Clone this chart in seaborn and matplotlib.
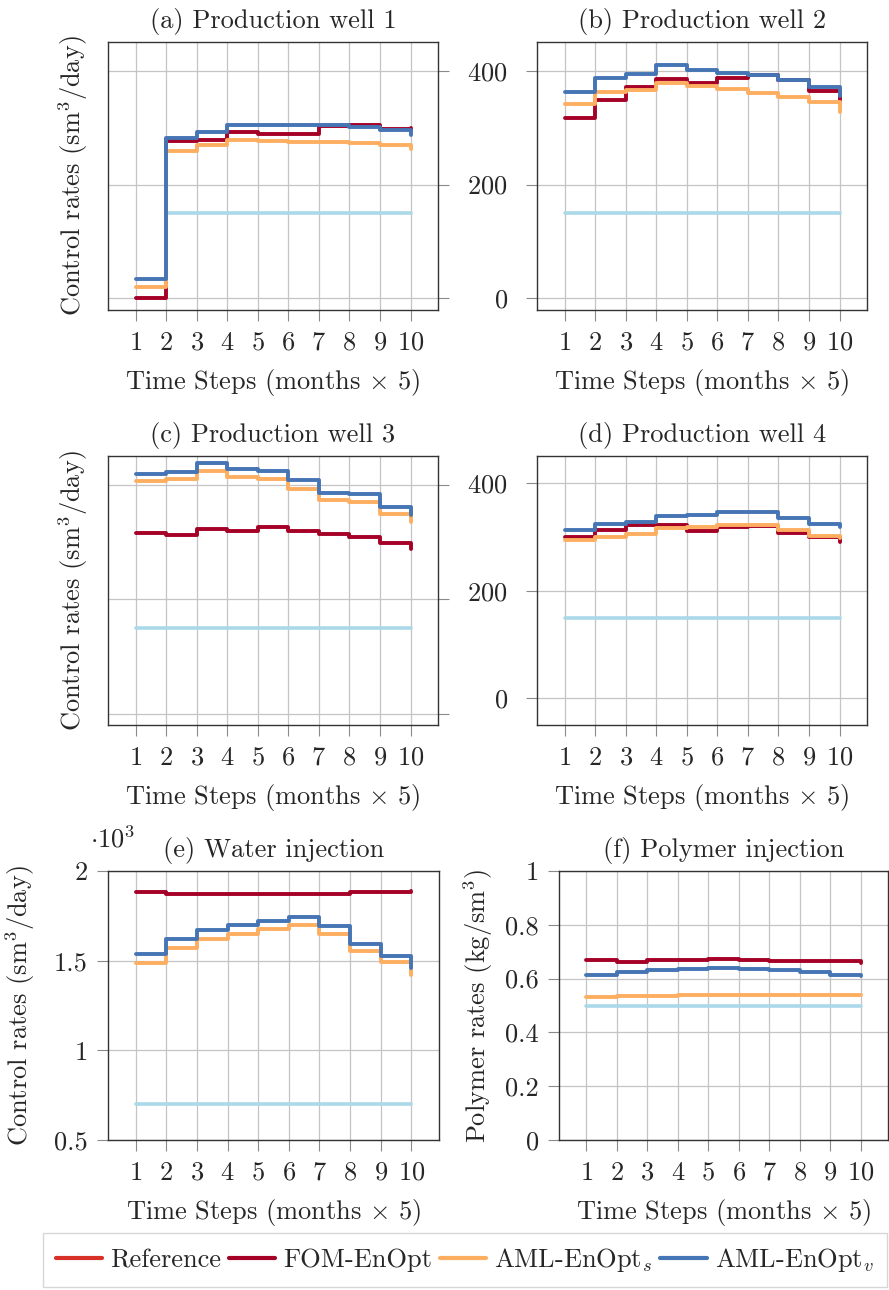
#!/usr/bin/env python3
"""
Optimized control rates per well: step plots over the 10 control steps.
"""

import matplotlib
matplotlib.use('Agg')
import matplotlib.pyplot as plt
from matplotlib.lines import Line2D
from matplotlib.ticker import FuncFormatter
import seaborn as sns

sns.set_theme(style='ticks')
plt.rcParams['font.family'] = ['cmr10', 'DejaVu Serif']
plt.rcParams['mathtext.fontset'] = 'cm'
plt.rcParams['axes.formatter.use_mathtext'] = True

# ---------------- data ----------------
steps = [1, 2, 3, 4, 5, 6, 7, 8, 9, 10]

# (a) Production well 1
a_init = [0, 150, 150, 150, 150, 150, 150, 150, 150, 150]
a_fom = [0, 276, 279, 292, 289, 289, 303, 305, 297, 300]
a_aml_s = [20, 259, 269, 279, 276, 275, 275, 273, 269, 262]
a_aml_v = [33, 282, 292, 304, 304, 304, 304, 302, 296, 288]

# (b) Production well 2
b_init = [150] * 10
b_fom = [317, 349, 371, 385, 379, 387, 392, 384, 365, 349]
b_aml_s = [341, 363, 366, 379, 373, 368, 362, 355, 345, 327]
b_aml_v = [363, 388, 395, 410, 402, 397, 392, 384, 371, 356]

# (c) Production well 3
c_init = [150] * 10
c_fom = [316, 312, 323, 320, 326, 320, 314, 310, 298, 289]
c_aml_s = [408, 411, 425, 415, 410, 394, 374, 370, 350, 336]
c_aml_v = [420, 423, 438, 428, 424, 409, 387, 384, 362, 347]

# (d) Production well 4
d_init = [150] * 10
d_fom = [301, 313, 323, 322, 311, 318, 321, 308, 301, 290]
d_aml_s = [295, 301, 305, 316, 318, 322, 323, 313, 302, 299]
d_aml_v = [313, 324, 329, 340, 342, 346, 346, 336, 324, 318]

# (e) Water injection (sm3/day)
e_init = [700] * 10
e_fom = [1881, 1872, 1872, 1872, 1870, 1870, 1874, 1881, 1885, 1888]
e_aml_s = [1487, 1569, 1619, 1647, 1675, 1697, 1651, 1556, 1491, 1420]
e_aml_v = [1537, 1619, 1671, 1697, 1719, 1742, 1695, 1595, 1526, 1457]

# (f) Polymer injection (kg/sm3)
f_init = [0.5] * 10
f_fom = [0.671, 0.662, 0.668, 0.668, 0.673, 0.671, 0.665, 0.667, 0.665, 0.658]
f_aml_s = [0.530, 0.534, 0.537, 0.538, 0.538, 0.538, 0.538, 0.538, 0.538, 0.538]
f_aml_v = [0.615, 0.624, 0.632, 0.637, 0.640, 0.637, 0.631, 0.624, 0.614, 0.611]

titles = ['(a) Production well 1', '(b) Production well 2',
          '(c) Production well 3', '(d) Production well 4',
          '(e) Water injection', '(f) Polymer injection']
legend_labels = ['Reference', 'FOM-EnOpt', r'AML-EnOpt$_s$', r'AML-EnOpt$_v$']

# colours
col_init = '#abd9e9'
col_ref = '#d73027'
col_fom = '#a50026'
col_s = '#fdae61'
col_v = '#4575b4'

FS = 19
W, H = 889, 1290
fig = plt.figure(figsize=(W / 100, H / 100), dpi=100)


def make_ax(x0, y_top, x1, y_bot):
    return fig.add_axes([x0 / W, 1 - y_bot / H, (x1 - x0) / W, (y_bot - y_top) / H])


axes = [
    make_ax(108, 42, 438, 310), make_ax(537, 42, 867, 310),
    make_ax(108, 456, 438, 725), make_ax(537, 456, 867, 725),
    make_ax(108, 871, 439, 1140), make_ax(559, 871, 888, 1140),
]

panels = [
    (a_init, a_fom, a_aml_s, a_aml_v),
    (b_init, b_fom, b_aml_s, b_aml_v),
    (c_init, c_fom, c_aml_s, c_aml_v),
    (d_init, d_fom, d_aml_s, d_aml_v),
    (e_init, e_fom, e_aml_s, e_aml_v),
    (f_init, f_fom, f_aml_s, f_aml_v),
]

for ax, (init, fom, aml_s, aml_v), title in zip(axes, panels, titles):
    sns.lineplot(x=steps, y=init, ax=ax, color=col_init, lw=2.6, drawstyle='steps-post')
    sns.lineplot(x=steps, y=fom, ax=ax, color=col_fom, lw=2.8, drawstyle='steps-post')
    sns.lineplot(x=steps, y=aml_s, ax=ax, color=col_s, lw=2.8, drawstyle='steps-post')
    sns.lineplot(x=steps, y=aml_v, ax=ax, color=col_v, lw=2.8, drawstyle='steps-post')

    ax.set_xlim(0.1, 10.9)
    ax.set_xticks(steps)
    ax.grid(True, color='#c4c4c4', lw=0.9)
    ax.set_axisbelow(True)
    for sp in ax.spines.values():
        sp.set_color('#333333')
        sp.set_linewidth(1.0)
    ax.tick_params(direction='out', length=8, width=0.8, color='#8a8a8a',
                   labelsize=FS)
    ax.tick_params(axis='x', pad=7)
    ax.set_title(title, fontsize=FS, pad=10)
    ax.set_xlabel(r'Time Steps (months $\times$ 5)', fontsize=FS, labelpad=9)
    ax.set_ylabel('')

# production wells share the same y range
for ax in axes[:4]:
    ax.set_yticks([0, 200, 400])
axes[0].set_ylim(-21, 451)
axes[1].set_ylim(-21, 451)
axes[2].set_ylim(-20, 451)
axes[3].set_ylim(-50, 451)
for ax in (axes[1], axes[3]):
    ax.tick_params(axis='y', pad=13)

# left column wells: ticks on the right side without labels
for ax in (axes[0], axes[2]):
    ax.yaxis.tick_right()
    ax.tick_params(axis='y', labelright=False)
    ax.set_ylabel(r'Control rates (sm$^3$/day)', fontsize=FS)
    ax.yaxis.set_label_position('left')
    ax.yaxis.set_label_coords(-0.055, 0.5)

# water injection
ax = axes[4]
ax.set_ylim(500, 2000)
ax.set_yticks([500, 1000, 1500, 2000])
ax.yaxis.set_major_formatter(FuncFormatter(lambda v, p: f'{v / 1000:g}'))
ax.tick_params(axis='y', pad=6.5)
ax.set_ylabel(r'Control rates (sm$^3$/day)', fontsize=FS)
ax.yaxis.set_label_coords(-0.215, 0.5)
ax.text(-0.055, 1.12, r'$\cdot 10^3$', transform=ax.transAxes, fontsize=FS,
        ha='left', va='center')

# polymer injection
ax = axes[5]
ax.set_ylim(0, 1)
ax.set_yticks([0, 0.2, 0.4, 0.6, 0.8, 1.0])
ax.yaxis.set_major_formatter(FuncFormatter(lambda v, p: f'{v:g}'))
ax.tick_params(axis='y', pad=6.5)
ax.set_ylabel(r'Polymer rates (kg/sm$^3$)', fontsize=FS)
ax.yaxis.set_label_coords(-0.195, 0.5)

handles = [Line2D([], [], color=c, lw=3) for c in (col_ref, col_fom, col_s, col_v)]
fig.legend(handles, legend_labels, loc='upper left',
           bbox_to_anchor=(43 / W, 1 - 1233 / H), ncol=4, fontsize=FS,
           frameon=True, fancybox=False, edgecolor='#cccccc',
           handlelength=1.75, handletextpad=0.3, columnspacing=0.3,
           borderpad=0.5, borderaxespad=0)

plt.savefig('out.png', dpi=100)
plt.close()
